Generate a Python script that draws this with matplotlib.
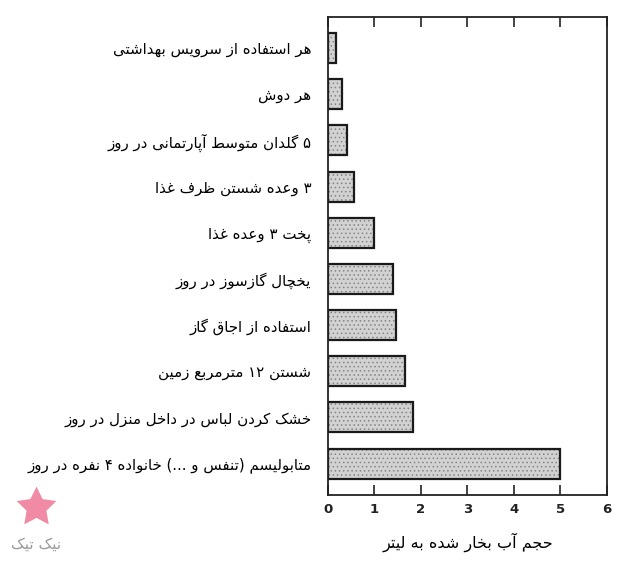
import matplotlib
matplotlib.use("Agg")
import matplotlib.pyplot as plt
from matplotlib.lines import Line2D

# data, top to bottom as drawn
labels = [
    "هر استفاده از سرویس بهداشتی",
    "هر دوش",
    "۵ گلدان متوسط آپارتمانی در روز",
    "۳ وعده شستن ظرف غذا",
    "پخت ۳ وعده غذا",
    "یخچال گازسوز در روز",
    "استفاده از اجاق گاز",
    "شستن ۱۲ مترمربع زمین",
    "خشک کردن لباس در داخل منزل در روز",
    "متابولیسم (تنفس و ...) خانواده ۴ نفره در روز",
]
litres = [0.17, 0.31, 0.40, 0.55, 0.98, 1.40, 1.46, 1.66, 1.82, 4.98]
xticks = [0, 1, 2, 3, 4, 5, 6]
xlabel = "حجم آب بخار شده به لیتر"
brand = "نیک تیک"


# --- minimal arabic/persian shaping, matplotlib has no bidi support ---
# char: (isolated, final, initial, medial); 2-tuple means right-joining only
FORMS = {
    "آ": (0xFE81, 0xFE82), "ا": (0xFE8D, 0xFE8E),
    "ب": (0xFE8F, 0xFE90, 0xFE91, 0xFE92), "ت": (0xFE95, 0xFE96, 0xFE97, 0xFE98),
    "ث": (0xFE99, 0xFE9A, 0xFE9B, 0xFE9C), "ج": (0xFE9D, 0xFE9E, 0xFE9F, 0xFEA0),
    "ح": (0xFEA1, 0xFEA2, 0xFEA3, 0xFEA4), "خ": (0xFEA5, 0xFEA6, 0xFEA7, 0xFEA8),
    "د": (0xFEA9, 0xFEAA), "ذ": (0xFEAB, 0xFEAC), "ر": (0xFEAD, 0xFEAE),
    "ز": (0xFEAF, 0xFEB0), "ژ": (0xFB8A, 0xFB8B),
    "س": (0xFEB1, 0xFEB2, 0xFEB3, 0xFEB4), "ش": (0xFEB5, 0xFEB6, 0xFEB7, 0xFEB8),
    "ص": (0xFEB9, 0xFEBA, 0xFEBB, 0xFEBC), "ض": (0xFEBD, 0xFEBE, 0xFEBF, 0xFEC0),
    "ط": (0xFEC1, 0xFEC2, 0xFEC3, 0xFEC4), "ظ": (0xFEC5, 0xFEC6, 0xFEC7, 0xFEC8),
    "ع": (0xFEC9, 0xFECA, 0xFECB, 0xFECC), "غ": (0xFECD, 0xFECE, 0xFECF, 0xFED0),
    "ف": (0xFED1, 0xFED2, 0xFED3, 0xFED4), "ق": (0xFED5, 0xFED6, 0xFED7, 0xFED8),
    "ل": (0xFEDD, 0xFEDE, 0xFEDF, 0xFEE0), "م": (0xFEE1, 0xFEE2, 0xFEE3, 0xFEE4),
    "ن": (0xFEE5, 0xFEE6, 0xFEE7, 0xFEE8), "ه": (0xFEE9, 0xFEEA, 0xFEEB, 0xFEEC),
    "و": (0xFEED, 0xFEEE),
    "پ": (0xFB56, 0xFB57, 0xFB58, 0xFB59), "چ": (0xFB7A, 0xFB7B, 0xFB7C, 0xFB7D),
    "ک": (0xFB8E, 0xFB8F, 0xFB90, 0xFB91), "گ": (0xFB92, 0xFB93, 0xFB94, 0xFB95),
    "ی": (0xFBFC, 0xFBFD, 0xFBFE, 0xFBFF),
}
MIRROR = {"(": ")", ")": "("}


def shape(text):
    out = []
    for i, ch in enumerate(text):
        f = FORMS.get(ch)
        if f is None:
            out.append(ch)
            continue
        prev = FORMS.get(text[i - 1]) if i > 0 else None
        nxt = FORMS.get(text[i + 1]) if i + 1 < len(text) else None
        join_prev = prev is not None and len(prev) == 4
        join_next = len(f) == 4 and nxt is not None
        if join_prev and join_next:
            out.append(chr(f[3]))
        elif join_prev:
            out.append(chr(f[1]))
        elif join_next:
            out.append(chr(f[2]))
        else:
            out.append(chr(f[0]))
    # visual order: reverse, but keep digit runs left to right
    runs, cur = [], ""
    for ch in out:
        if ch.isdigit():
            cur += ch
        else:
            if cur:
                runs.append(cur)
                cur = ""
            runs.append(MIRROR.get(ch, ch))
    if cur:
        runs.append(cur)
    return "".join(reversed(runs))


plt.rcParams["font.family"] = ["DejaVu Sans"]
plt.rcParams["hatch.linewidth"] = 0.6

fig = plt.figure(figsize=(6.35, 5.67), dpi=100)
ax = fig.add_axes([0.5165, 0.127, 0.4394, 0.8435])

ypos = list(range(len(labels)))
ax.barh(ypos, litres, height=0.65, color="#d2d2d2", edgecolor="#858585",
        hatch="....", linewidth=0)
ax.barh(ypos, litres, height=0.65, fill=False, edgecolor="#1a1a1a", linewidth=1.6)

ax.set_xlim(0, 6)
ax.set_ylim(len(labels) - 1 + 0.68, -0.68)

ax.set_yticks(ypos)
ax.set_yticklabels([shape(s) for s in labels], fontsize=10.8)
ax.tick_params(axis="y", length=0, pad=12)

ax.set_xticks(xticks)
ax.set_xticklabels([str(t) for t in xticks], fontsize=9.5, fontweight="bold",
                   color="#222222")
ax.tick_params(axis="x", direction="in", length=7, width=1.2, top=True,
               pad=6, color="#222222")

for sp in ax.spines.values():
    sp.set_linewidth(1.3)
    sp.set_color("#222222")

ax.set_xlabel(shape(xlabel), fontsize=11.5, labelpad=12)

# watermark (star logo + name)
fig.add_artist(Line2D([0.057], [0.105], transform=fig.transFigure,
                      marker=(5, 1, 0), markersize=30, color="#f08aa5",
                      markeredgewidth=0, linestyle="none"))
fig.text(0.057, 0.04, shape(brand), color="#9a9a9a", fontsize=11,
         ha="center", va="center")

fig.savefig("out.png", dpi=100)
